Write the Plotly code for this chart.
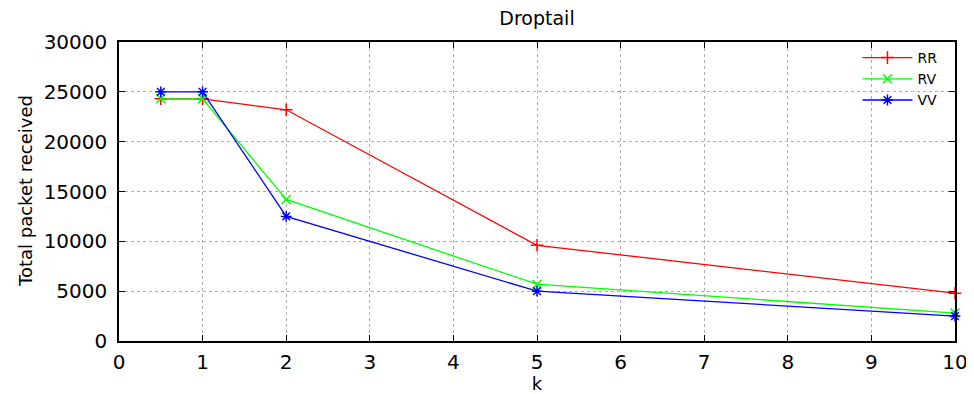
import plotly.graph_objects as go

k_values = [0.5, 1, 2, 5, 10]
rr_values = [24300, 24300, 23200, 9600, 4800]
rv_values = [24300, 24300, 14200, 5700, 2800]
vv_values = [25000, 25000, 12500, 5000, 2500]

x_ticks = [0, 1, 2, 3, 4, 5, 6, 7, 8, 9, 10]
y_ticks = [0, 5000, 10000, 15000, 20000, 25000, 30000]

series = [
    ("RR", rr_values, "#ff0000", "cross-thin"),
    ("RV", rv_values, "#00ff00", "x-thin"),
    ("VV", vv_values, "#0000ff", "asterisk"),
]

fig = go.Figure()
for name, vals, color, sym in series:
    fig.add_trace(go.Scatter(
        x=k_values, y=vals, name=name, mode="lines+markers",
        line=dict(color=color, width=1.3),
        marker=dict(symbol=sym, size=9, color=color,
                    line=dict(color=color, width=1.5)),
        cliponaxis=False,
    ))

axis_common = dict(
    showline=True, linecolor="black", linewidth=1.5, mirror="ticks",
    ticks="inside", ticklen=6, tickcolor="black",
    showgrid=True, gridcolor="#acacac", griddash="dot", gridwidth=1,
    zeroline=False, automargin=False,
    tickfont=dict(family="DejaVu Sans", size=20, color="black"),
)

# page adds an 8px body margin, so figure is sized/offset to compensate
fig.update_layout(
    width=966, height=386,
    paper_bgcolor="white", plot_bgcolor="white",
    margin=dict(l=111, r=19, t=34, b=53),
    title=dict(text="Droptail", x=(111 + 418) / 966, xanchor="center",
               y=1 - 10 / 386, yanchor="middle", yref="container",
               font=dict(family="DejaVu Sans", size=19, color="black")),
    xaxis=dict(range=[0, 10], tickvals=x_ticks,
               ticktext=[str(v) for v in x_ticks],
               ticklabelstandoff=2,
               title=dict(text="k", standoff=0,
                          font=dict(family="DejaVu Sans", size=18, color="black")),
               **axis_common),
    yaxis=dict(range=[0, 30000], tickvals=y_ticks,
               ticktext=[str(v) for v in y_ticks],
               ticklabelstandoff=6,
               **axis_common),
    annotations=[dict(text="Total packet received", textangle=-90,
                      xref="paper", yref="paper",
                      x=-(111 - 17) / 836, y=(333 - 183) / 299,
                      xanchor="center", yanchor="middle", showarrow=False,
                      font=dict(family="DejaVu Sans", size=18, color="black"))],
    legend=dict(x=0.985, y=1.0, xanchor="right", yanchor="top",
                bgcolor="rgba(0,0,0,0)", borderwidth=0,
                font=dict(family="DejaVu Sans", size=14, color="black"),
                itemwidth=50, tracegroupgap=0),
    showlegend=True,
)

fig.write_html("out.html")
